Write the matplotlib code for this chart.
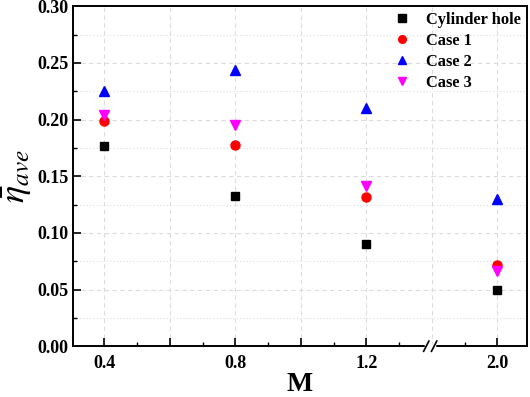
import numpy as np
import matplotlib
matplotlib.use('Agg')
import matplotlib.pyplot as plt
from matplotlib.ticker import MultipleLocator, FixedLocator
import matplotlib.transforms as mtransforms

plt.rcParams['font.family'] = ['Liberation Serif', 'DejaVu Serif']
plt.rcParams['mathtext.fontset'] = 'stix'

# blowing ratio
M = [0.4, 0.8, 1.2, 2.0]
M_labels = ['0.4', '0.8', '1.2', '2.0']

cylinder = [0.177, 0.133, 0.090, 0.050]
case1 = [0.199, 0.178, 0.132, 0.072]
case2 = [0.225, 0.244, 0.210, 0.130]
case3 = [0.204, 0.195, 0.141, 0.066]

# broken x axis: values above the break are shifted left
BREAK_SHIFT = 0.4
def xpos(v):
    v = np.asarray(v)
    return np.where(v > 1.3, v - BREAK_SHIFT, v)

fig = plt.figure(figsize=(5.30, 3.97), dpi=100)
ax = fig.add_axes([0.138, 0.128, 0.856, 0.856])

x = xpos(M)
ax.plot(x, cylinder, 's', color='black', ms=6, label='Cylinder hole', zorder=3)
ax.plot(x, case1, 'o', color='red', ms=6.5, label='Case 1', zorder=3)
ax.plot(x, case2, '^', color='blue', ms=7.5, label='Case 2', zorder=3)
ax.plot(x, case3, 'v', color='magenta', ms=7.5, label='Case 3', zorder=3)

ax.set_xlim(0.305, 1.69)
ax.set_ylim(0, 0.30)

ax.xaxis.set_major_locator(FixedLocator([0.4, 0.6, 0.8, 1.0, 1.2, 1.6]))
ax.set_xticklabels(['0.4', '', '0.8', '', '1.2', '2.0'])
ax.xaxis.set_minor_locator(FixedLocator([0.5, 0.7, 0.9, 1.1, 1.3, 1.5]))
ax.yaxis.set_major_locator(MultipleLocator(0.05))
ax.yaxis.set_minor_locator(MultipleLocator(0.025))
ax.yaxis.set_major_formatter(matplotlib.ticker.FormatStrFormatter('%.2f'))

ax.tick_params(which='major', direction='in', length=6, width=1.2, labelsize=13)
ax.tick_params(which='minor', direction='in', length=3, width=1.0)
ax.tick_params(axis='x', pad=6)
for lab in ax.get_xticklabels() + ax.get_yticklabels():
    lab.set_fontweight('bold')

for s in ax.spines.values():
    s.set_linewidth(1.4)

# grid
for gx in [0.4, 0.6, 0.8, 1.0, 1.2, 1.4, 1.6]:
    ax.axvline(gx, color='#dcdcdc', ls=(0, (4, 3)), lw=0.8, zorder=0)
for gy in np.arange(0.05, 0.30, 0.05):
    ax.axhline(gy, color='#dcdcdc', ls=(0, (4, 3)), lw=0.8, zorder=0)
for gy in np.arange(0.025, 0.30, 0.05):
    ax.axhline(gy, color='#dcdcdc', ls=(0, (1, 2)), lw=0.8, zorder=0)

# break marks on x axis
trans = mtransforms.blended_transform_factory(ax.transData, ax.transAxes)
bx = 1.395
ax.plot([bx - 0.012, bx + 0.012], [0, 0], color='white', lw=2.5, transform=trans, clip_on=False, zorder=5)
for dx in (-0.012, 0.012):
    ax.plot([bx + dx - 0.008, bx + dx + 0.008], [-0.015, 0.015], color='black', lw=1.2,
            transform=trans, clip_on=False, zorder=6)

ax.set_xlabel('M', fontsize=20, fontweight='bold', labelpad=0)
ax.set_ylabel(r'$\bar{\eta}_{ave}$', fontsize=26, labelpad=2)

leg = ax.legend(loc='upper right', frameon=False, handletextpad=0.7, borderaxespad=0.1,
                borderpad=0.25, handlelength=1.6, labelspacing=0.3, markerscale=0.85,
                prop={'weight': 'bold', 'size': 11.8})

fig.savefig('out.png', dpi=100)
